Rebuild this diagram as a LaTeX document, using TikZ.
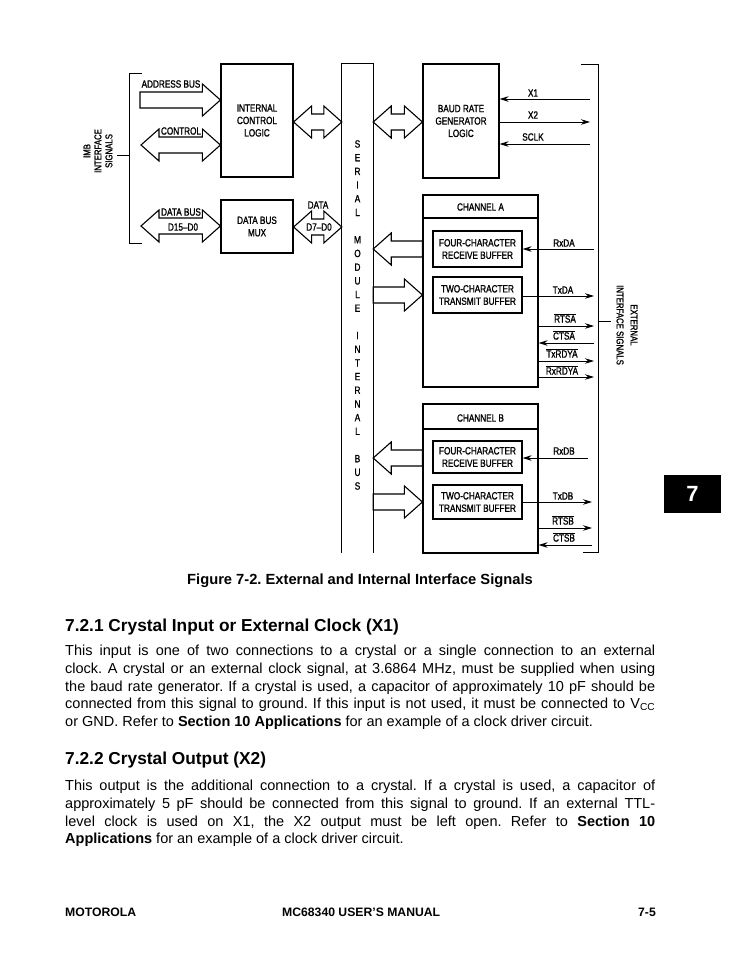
\documentclass[tikz,border=0pt]{standalone}
\usepackage{fontspec}
\setmainfont{Liberation Sans}
\newfontfamily\dfont[FakeStretch=0.78,FakeBold=1.2,Ligatures=TeX]{Liberation Sans}
\usetikzlibrary{arrows.meta,calc}
\frenchspacing
\newcommand\ovl[1]{$\overline{\hbox{#1}}$}
\newcommand\blockdbl[2]{%
  \draw[hollow] let \p1=(#1), \p2=(#2) in
   (\p1) -- (\x1+18pt,\y1+16pt) -- (\x1+18pt,\y1+8pt) -- (\x2-18pt,\y1+8pt) -- (\x2-18pt,\y1+16pt)
   -- (\x2,\y1) -- (\x2-18pt,\y1-16pt) -- (\x2-18pt,\y1-8pt) -- (\x1+18pt,\y1-8pt) -- (\x1+18pt,\y1-16pt) -- cycle;}
\newcommand\blocksgl[2]{%
  \draw[hollow] let \p1=(#1), \p2=(#2), \n1={ifthenelse(\x2>\x1,1,-1)} in
   (\x1,\y2+8pt) -- (\x2-\n1*18pt,\y2+8pt) -- (\x2-\n1*18pt,\y2+16pt) -- (\p2)
   -- (\x2-\n1*18pt,\y2-16pt) -- (\x2-\n1*18pt,\y2-8pt) -- (\x1,\y2-8pt) -- cycle;}
\tikzset{
  box/.style={draw, line width=1.2pt, inner sep=0pt},
  lbl/.style={font=\dfont\fontsize{10.5}{12.4}\selectfont, inner sep=0.6pt, align=center},
  wlbl/.style={lbl, fill=white},
  sig/.style={line width=0.9pt, -{Stealth[length=9pt,width=5.5pt]}},
  hollow/.style={line width=1.1pt, line join=miter},
  brk/.style={line width=1pt},
  body/.style={font=\fontsize{14.5}{17.7}\selectfont, inner sep=0pt, anchor=base west},
  head/.style={font=\bfseries\fontsize{17.3}{20}\selectfont, inner sep=0pt, anchor=base west},
}
\begin{document}
\begin{tikzpicture}[x=1pt,y=-1pt]
\useasboundingbox (0,0) rectangle (731,975);
\fill[white] (0,0) rectangle (731,975);

% IMB side
\node[box, minimum width=72, minimum height=113, lbl] (icl) at (257,120.5) {INTERNAL\\CONTROL\\LOGIC};
\node[box, minimum width=72, minimum height=53, lbl] (dbm) at (257,226.5) {DATA BUS\\MUX};
\draw[brk] (142,73) -- (129,73) -- (129,243) -- (142,243);
\draw[brk] (117,155) -- (129,155);
\node[lbl, rotate=90, font=\dfont\fontsize{10}{11}\selectfont] (imb) at (98,151) {IMB\\INTERFACE\\SIGNALS};

\coordinate (addrT) at (140,100);
\coordinate (ctlL) at (141,145);
\coordinate (dbL) at (141,226);
\blocksgl{addrT}{icl.west |- addrT}
\blockdbl{ctlL}{icl.west |- ctlL}
\blockdbl{dbL}{dbm.west |- dbL}
\node[wlbl] (laddr) at (171,84) {ADDRESS BUS};
\node[wlbl] (lctl) at (181,131) {CONTROL};
\node[wlbl] (ldb) at (181,212) {DATA BUS};
\node[lbl] (ld15) at (183,227) {D15–D0};

% serial module bus
\node[minimum width=31, minimum height=489, inner sep=0pt] (bus) at (357.5,308.5) {};
\draw[line width=1.2pt] (bus.south west) -- (bus.north west) -- (bus.north east) -- (bus.south east);
\node[lbl, font=\dfont\fontsize{10.5}{13.68}\selectfont] (buslbl) at (357.5,315)
 {S\\E\\R\\I\\A\\L\\[13.68pt]M\\O\\D\\U\\L\\E\\[13.68pt]I\\N\\T\\E\\R\\N\\A\\L\\[13.68pt]B\\U\\S};

\blockdbl{icl.east |- 0,122}{bus.west |- 0,122}
\blockdbl{dbm.east |- 0,227}{bus.west |- 0,227}
\node[lbl] (ldata) at (318,205) {DATA};
\node[lbl] (ld7) at (319,227) {D7–D0};

% baud rate generator
\node[box, minimum width=76, minimum height=114, lbl] (brg) at (461,121) {BAUD RATE\\GENERATOR\\LOGIC};
\blockdbl{bus.east |- 0,122}{brg.west |- 0,122}
\coordinate (eX1) at (590,99);
\coordinate (eX2) at (590,122);
\coordinate (eSC) at (590,144);
\draw[sig] (eX1) -- (brg.east |- eX1);
\draw[sig] (brg.east |- eX2) -- (eX2);
\draw[sig] (eSC) -- (brg.east |- eSC);
\node[lbl] (lx1) at (533,93) {X1};
\node[lbl] (lx2) at (533,115) {X2};
\node[lbl] (lsc) at (533,137) {SCLK};

% channel A
\node[box, minimum width=115, minimum height=192] (cha) at (480.5,291) {};
\draw[line width=1.2pt] (cha.west |- 0,218) -- (cha.east |- 0,218);
\node[lbl] (chal) at (480.5,207) {CHANNEL A};
\node[box, minimum width=89, minimum height=36, lbl] (rxa) at (477.5,249) {FOUR-CHARACTER\\RECEIVE BUFFER};
\node[box, minimum width=89, minimum height=36, lbl] (txa) at (477.5,295) {TWO-CHARACTER\\TRANSMIT BUFFER};
\blocksgl{cha.west |- 0,249}{bus.east |- 0,249}
\blocksgl{bus.east |- 0,295}{cha.west |- 0,295}
\coordinate (eRxA) at (594,249);
\coordinate (eTxA) at (594,296);
\coordinate (eRTSA) at (594,326);
\coordinate (eCTSA) at (594,343);
\coordinate (eTRA) at (594,361);
\coordinate (eRRA) at (594,377);
\draw[sig] (eRxA) -- (rxa.east |- eRxA);
\draw[sig] (txa.east |- eTxA) -- (eTxA);
\draw[sig] (cha.east |- eRTSA) -- (eRTSA);
\draw[sig] (eCTSA) -- (cha.east |- eCTSA);
\draw[sig] (cha.east |- eTRA) -- (eTRA);
\draw[sig] (cha.east |- eRRA) -- (eRRA);
\node[lbl] (lrxa) at (564,243) {RxDA};
\node[lbl] (ltxa) at (563,290) {TxDA};
\node[lbl] (lrtsa) at (565,318) {\ovl{RTSA}};
\node[lbl] (lctsa) at (564,335) {\ovl{CTSA}};
\node[lbl] (ltra) at (562,353) {\ovl{TxRDYA}};
\node[lbl] (lrra) at (562,370) {\ovl{RxRDYA}};

% channel B
\node[box, minimum width=115, minimum height=149] (chb) at (480.5,478.5) {};
\draw[line width=1.2pt] (chb.west |- 0,429) -- (chb.east |- 0,429);
\node[lbl] (chbl) at (480.5,418) {CHANNEL B};
\node[box, minimum width=89, minimum height=32, lbl] (rxb) at (477.5,457) {FOUR-CHARACTER\\RECEIVE BUFFER};
\node[box, minimum width=89, minimum height=34, lbl] (txb) at (477.5,502) {TWO-CHARACTER\\TRANSMIT BUFFER};
\blocksgl{chb.west |- 0,458}{bus.east |- 0,458}
\blocksgl{bus.east |- 0,502}{chb.west |- 0,502}
\coordinate (eRxB) at (588,458);
\coordinate (eTxB) at (592,502);
\coordinate (eRTSB) at (592,528);
\coordinate (eCTSB) at (592,545);
\draw[sig] (eRxB) -- (rxb.east |- eRxB);
\draw[sig] (txb.east |- eTxB) -- (eTxB);
\draw[sig] (chb.east |- eRTSB) -- (eRTSB);
\draw[sig] (eCTSB) -- (chb.east |- eCTSB);
\node[lbl] (lrxb) at (564,451) {RxDB};
\node[lbl] (ltxb) at (563,496) {TxDB};
\node[lbl] (lrtsb) at (563,520) {\ovl{RTSB}};
\node[lbl] (lctsb) at (564,537) {\ovl{CTSB}};

% external bracket
\draw[brk] (581,64) -- (598,64) -- (598,552) -- (583,552);
\draw[brk] (598,321) -- (611,321);
\node[lbl, rotate=-90, font=\dfont\fontsize{10}{14}\selectfont] (ext) at (627,325) {EXTERNAL\\INTERFACE SIGNALS};

% tab
\node[fill=black, minimum width=57, minimum height=38, inner sep=0pt, text=white,
      font=\bfseries\fontsize{22}{24}\selectfont] (tab) at (692.5,494) {7};

% caption and text
\node[font=\bfseries\fontsize{14.7}{17}\selectfont, inner sep=0pt, anchor=base] (cap) at (360,584)
  {Figure 7-2. External and Internal Interface Signals};
\node[head] (h1) at (65,631) {7.2.1 Crystal Input or External Clock (X1)};
\node[body] (p1a) at (65,655) {\makebox[590pt][s]{This input is one of two connections to a crystal or a single connection to an external}};
\node[body] (p1b) at (65,673) {\makebox[590pt][s]{clock. A crystal or an external clock signal, at 3.6864 MHz, must be supplied when using}};
\node[body] (p1c) at (65,691) {\makebox[590pt][s]{the baud rate generator. If a crystal is used, a capacitor of approximately 10 pF should be}};
\node[body] (p1d) at (65,708) {\makebox[590pt][s]{connected from this signal to ground. If this input is not used, it must be connected to V\textsubscript{CC}}};
\node[body] (p1e) at (65,726) {or GND. Refer to \textbf{Section 10 Applications} for an example of a clock driver circuit.};
\node[head] (h2) at (65,764) {7.2.2 Crystal Output (X2)};
\node[body] (p2a) at (65,790) {\makebox[590pt][s]{This output is the additional connection to a crystal. If a crystal is used, a capacitor of}};
\node[body] (p2b) at (65,808) {\makebox[590pt][s]{approximately 5 pF should be connected from this signal to ground. If an external TTL-}};
\node[body] (p2c) at (65,826) {\makebox[590pt][s]{level clock is used on X1, the X2 output must be left open. Refer to \textbf{Section 10}}};
\node[body] (p2d) at (65,843) {\textbf{Applications} for an example of a clock driver circuit.};

% footer
\node[font=\bfseries\fontsize{12.2}{14}\selectfont, inner sep=0pt, anchor=base west] (f1) at (65,916) {MOTOROLA};
\node[font=\bfseries\fontsize{12.2}{14}\selectfont, inner sep=0pt, anchor=base west] (f2) at (282,916) {MC68340 USER'S MANUAL};
\node[font=\bfseries\fontsize{12.2}{14}\selectfont, inner sep=0pt, anchor=base east] (f3) at (656,916) {7-5};
\end{tikzpicture}
\end{document}
